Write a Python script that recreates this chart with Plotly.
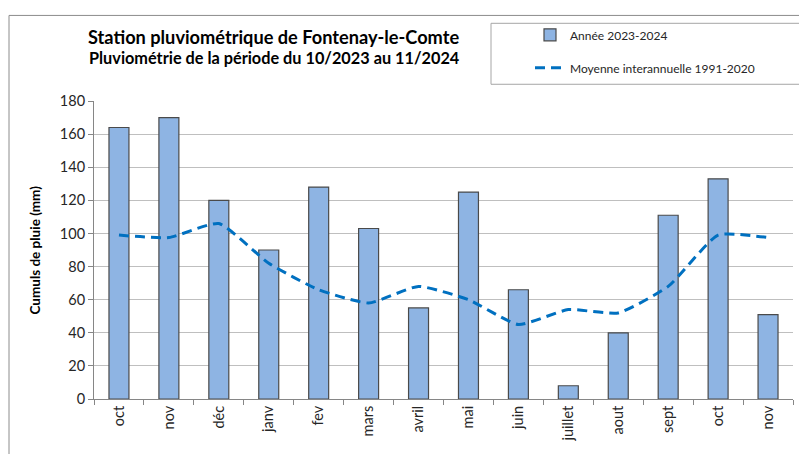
import plotly.graph_objects as go

months = ["oct", "nov", "déc", "janv", "fev", "mars", "avril", "mai", "juin",
          "juillet", "aout", "sept", "oct", "nov"]
rain_2023_2024 = [164, 170, 120, 90, 128, 103, 55, 125, 66, 8, 40, 111, 133, 51]
mean_1991_2020 = [99, 97.5, 106, 82, 66, 58, 68, 60, 45, 54, 52, 68, 99, 97.5]
y_ticks = [0, 20, 40, 60, 80, 100, 120, 140, 160, 180]

# The page body adds an 8px offset; work in reference pixels and shift.
OFF = 8
W, H = 807 - OFF, 454 - OFF
L, R, T, B = 94 - OFF, 14, 98 - OFF, 53
PW, PH = W - L - R, H - T - B


def px(x):
    return (x - OFF - L) / PW


def py(y):
    return (H - B - (y - OFF)) / PH


FONT = "Lato, 'Open Sans', sans-serif"
idx = list(range(len(months)))

fig = go.Figure()
fig.add_trace(go.Bar(
    x=idx, y=rain_2023_2024, name="Année 2023-2024",
    marker=dict(color="#8EB4E3", line=dict(color="#4A4A4A", width=1.2)),
    legendgroup="a",
))
fig.add_trace(go.Scatter(
    x=idx, y=mean_1991_2020, name="Moyenne interannuelle 1991-2020",
    mode="lines", line=dict(color="#0070C0", width=3, dash="10px,6px",
                            shape="spline", smoothing=0.5),
    legendgroup="b",
))

fig.update_layout(
    width=W, height=H,
    margin=dict(l=L, r=R, t=T, b=B, pad=0),
    paper_bgcolor="white", plot_bgcolor="white",
    font=dict(family=FONT, size=13, color="#404040"),
    bargap=0.6,
    showlegend=True,
    legend=dict(x=px(530), y=py(16), xanchor="left", yanchor="top",
                bgcolor="rgba(0,0,0,0)", borderwidth=0,
                font=dict(family=FONT, size=12, color="#262626"),
                tracegroupgap=14, itemwidth=30),
    xaxis=dict(
        range=[-0.5, len(months) - 0.5],
        tickmode="array", tickvals=idx, ticktext=months,
        tickangle=-90, ticks="", showgrid=False,
        showline=True, linecolor="#868686", linewidth=1,
        tickfont=dict(size=14.5, color="#262626"),
        minor=dict(tickmode="linear", tick0=-0.5, dtick=1, ticks="outside",
                   ticklen=5, tickcolor="#868686", showgrid=False),
        zeroline=False, fixedrange=True,
    ),
    yaxis=dict(
        range=[0, 180], tickmode="array", tickvals=y_ticks,
        showgrid=True, gridcolor="#BFBFBF", gridwidth=1,
        showline=True, linecolor="#868686", linewidth=1,
        ticks="outside", ticklen=5, tickcolor="#868686",
        tickfont=dict(size=14.5, color="#262626"),
        zeroline=False, fixedrange=True,
    ),
    annotations=[
        dict(text="<b>Station pluviométrique de Fontenay-le-Comte</b>",
             x=px(273), y=py(33), xref="paper", yref="paper",
             showarrow=False, font=dict(size=18.2, color="#000000"),
             xanchor="center", yanchor="middle"),
        dict(text="<b>Pluviométrie de la période du 10/2023 au 11/2024</b>",
             x=px(274), y=py(54), xref="paper", yref="paper",
             showarrow=False, font=dict(size=16.3, color="#000000"),
             xanchor="center", yanchor="middle"),
        dict(text="<b>Cumuls de pluie (mm)</b>",
             x=px(35), y=py(250), xref="paper", yref="paper",
             showarrow=False, textangle=-90, font=dict(size=13.5, color="#000000"),
             xanchor="center", yanchor="middle"),
    ],
    shapes=[
        dict(type="rect", xref="paper", yref="paper",
             x0=px(9), x1=px(830), y0=py(11), y1=py(480),
             line=dict(color="#8C8C8C", width=1), layer="below"),
        dict(type="rect", xref="paper", yref="paper",
             x0=px(491), x1=px(806), y0=py(19), y1=py(81),
             line=dict(color="#A6A6A6", width=1), layer="below"),
    ],
)

fig.write_html("out.html")
